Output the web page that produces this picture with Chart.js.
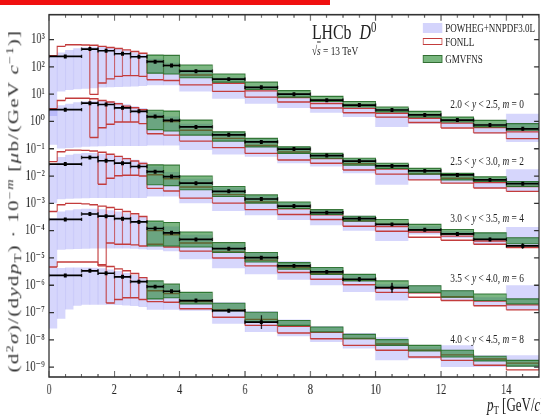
<!DOCTYPE html>
<html>
<head>
<meta charset="utf-8">
<script src="https://cdn.jsdelivr.net/npm/chart.js@4.4.1/dist/chart.umd.min.js"></script>
<style>
html, body { margin: 0; padding: 0; background: #fff; overflow: hidden; width: 541px; height: 415px; }
#wrap { position: absolute; left: 0; top: 0; width: 751px; height: 415px; transform: scaleX(0.72037); transform-origin: 0 0;
        font-family: "Liberation Serif", "DejaVu Serif", serif; color: #222; }
#chart { position: absolute; left: 0; top: 0; }
.lbl { position: absolute; white-space: nowrap; transform: translateY(-50%); line-height: 1; }
sup { font-size: 0.68em; vertical-align: 0.5em; line-height: 0; }
sub { font-size: 0.68em; vertical-align: -0.25em; line-height: 0; }
#redbar { position: absolute; left: 0; top: 0; width: 458px; height: 4.5px; background: #f01010; }
#ytitle { position: absolute; left: 19px; top: 201px; transform: translate(-50%, -50%) rotate(-90deg); white-space: nowrap;
          font-size: 21px; letter-spacing: 1.3px; line-height: 1; color: #333; }
.key { position: absolute; left: 587px; width: 27px; box-sizing: border-box; }
</style>
</head>
<body>
<div id="wrap">
  <canvas id="chart" width="751" height="415"></canvas>
  <div id="redbar"></div>
  <div id="ytitle">(d<sup>2</sup><i>σ</i>)/(d<i>y</i>d<i>p</i><sub>T</sub>) · 10<sup>−<i>m</i></sup> [<i>μ</i>b/(GeV <i>c</i><sup>−1</sup>)]</div>
  <div class="lbl" style="left:676px; top:405px; font-size:18px;"><i>p</i><sub>T</sub> [GeV/<i>c</i>]</div>
  <div class="lbl" style="left:433px; top:32px; font-size:22px;">LHCb&nbsp;&nbsp;<i>D</i><sup>0</sup></div>
  <div class="lbl" style="left:433px; top:50px; font-size:13px;">√<span style="text-decoration:overline"><i>s</i></span> = 13 TeV</div>
  <div class="key" style="top:23px; height:10px; background:rgb(212,212,252);"></div>
  <div class="key" style="top:38px; height:7px; border:1.3px solid rgb(195,60,60); background:#fff;"></div>
  <div class="key" style="top:55px; height:8px; background:rgb(120,182,126); border:1px solid rgb(50,110,50);"></div>
  <div class="lbl" style="left:618px; top:28px; font-size:12.5px;">POWHEG+NNPDF3.0L</div>
  <div class="lbl" style="left:618px; top:42px; font-size:12.5px;">FONLL</div>
  <div class="lbl" style="left:618px; top:59px; font-size:12.5px;">GMVFNS</div>
  <div id="rapidity"></div>
</div>
<script>
// bin edges in pT [GeV/c]
const dataEdges = [0, 1, 1.5, 2, 2.5, 3, 3.5, 4, 5, 6, 7, 8, 9, 10, 11, 12, 13, 14, 15];
const theoryEdges = [0, 0.25, 0.5, 0.75, 1, 1.25, 1.5, 1.75, 2, 2.25, 2.5, 2.75, 3, 3.5, 4, 5, 6, 7, 8, 9, 10, 11, 12, 13, 14, 15];
const gmvfnsEdges = [3, 3.5, 4, 5, 6, 7, 8, 9, 10, 11, 12, 13, 14, 15];

const mValues = [0, 2, 4, 6, 8];
const yLow = ['2.0', '2.5', '3.0', '3.5', '4.0'];
const yHigh = ['2.5', '3.0', '3.5', '4.0', '4.5'];
const xTickValues = [0, 2, 4, 6, 8, 10, 12, 14];
const yTickExponents = [-9, -8, -7, -6, -5, -4, -3, -2, -1, 0, 1, 2, 3];

// all values below are log10 of the plotted cross-section (already times 10^-m)
// 2.0 < y < 2.5, m = 0
const data_m0 = [2.38, 2.65, 2.59, 2.48, 2.37, 2.19, 2.05, 1.84, 1.55, 1.25, 1.00, 0.78, 0.60, 0.42, 0.24, 0.05, -0.13, -0.27];
const err_m0 = [0.03, 0.03, 0.03, 0.03, 0.03, 0.03, 0.03, 0.03, 0.03, 0.03, 0.03, 0.03, 0.03, 0.03, 0.03, 0.04, 0.04, 0.05];
const powhegHi_m0 = [2.41, 2.53, 2.62, 2.68, 2.72, 2.74, 2.73, 2.70, 2.65, 2.60, 2.53, 2.46, 2.30, 2.15, 1.90, 1.60, 1.30, 1.03, 0.80, 0.62, 0.47, 0.23, 0.10, -0.08, 0.28];
const powhegLo_m0 = [0.20, 1.10, 1.15, 1.18, 1.20, 1.22, 1.24, 1.25, 1.26, 1.27, 1.28, 1.30, 1.33, 1.33, 1.10, 0.83, 0.65, 0.49, 0.32, 0.16, -0.20, -0.08, -0.20, -0.44, -0.75];
const fonllHi_m0 = [2.41, 2.75, 2.81, 2.81, 2.80, 2.79, 2.75, 2.71, 2.67, 2.62, 2.56, 2.50, 2.20, 2.05, 1.70, 1.40, 1.12, 0.88, 0.66, 0.48, 0.30, 0.12, -0.06, -0.22, -0.38];
const fonllLo_m0 = [null, null, null, null, null, 0.99, 1.41, 1.56, 1.65, 1.68, 1.68, 1.65, 1.53, 1.50, 1.34, 1.10, 0.89, 0.71, 0.49, 0.32, 0.16, -0.04, -0.24, -0.42, -0.63];
const gmvfnsHi_m0 = [2.43, 2.42, 2.07, 1.74, 1.44, 1.13, 0.92, 0.73, 0.53, 0.37, 0.16, 0.04, -0.08];
const gmvfnsLo_m0 = [1.77, 1.74, 1.60, 1.44, 1.17, 0.89, 0.73, 0.53, 0.35, 0.16, -0.02, -0.20, -0.32];

// 2.5 < y < 3.0, m = 2
const data_m2 = [0.43, 0.67, 0.62, 0.50, 0.37, 0.18, 0.04, -0.20, -0.49, -0.75, -1.01, -1.25, -1.45, -1.63, -1.81, -1.96, -2.14, -2.28];
const err_m2 = [0.03, 0.03, 0.03, 0.03, 0.03, 0.03, 0.03, 0.03, 0.03, 0.03, 0.03, 0.03, 0.03, 0.03, 0.03, 0.04, 0.04, 0.05];
const powhegHi_m2 = [0.45, 0.59, 0.65, 0.70, 0.74, 0.76, 0.76, 0.74, 0.69, 0.63, 0.56, 0.49, 0.33, 0.18, -0.08, -0.38, -0.65, -0.93, -1.17, -1.38, -1.59, -1.77, -1.90, -2.08, -1.75];
const powhegLo_m2 = [-0.85, -0.99, -0.97, -0.95, -0.93, -0.92, -0.91, -0.90, -0.90, -0.90, -0.90, -0.90, -0.88, -0.88, -1.05, -1.21, -1.29, -1.53, -1.65, -1.90, -2.32, -2.14, -2.26, -2.44, -2.56];
const fonllHi_m2 = [0.47, 0.77, 0.85, 0.85, 0.85, 0.83, 0.77, 0.71, 0.65, 0.56, 0.50, 0.43, 0.15, 0.00, -0.32, -0.62, -0.88, -1.12, -1.36, -1.55, -1.74, -1.92, -2.08, -2.24, -2.38];
const fonllLo_m2 = [null, null, null, null, null, -0.59, -0.23, -0.10, -0.02, -0.02, -0.02, -0.08, -0.45, -0.50, -0.72, -0.96, -1.17, -1.41, -1.53, -1.78, -1.93, -2.14, -2.26, -2.44, -2.56];
const gmvfnsHi_m2 = [0.41, 0.38, 0.05, -0.38, -0.62, -0.93, -1.17, -1.35, -1.53, -1.72, -1.90, -2.03, -2.20];
const gmvfnsLo_m2 = [-0.30, -0.35, -0.50, -0.72, -0.93, -1.17, -1.35, -1.60, -1.72, -1.93, -2.14, -2.20, -2.38];

// 3.0 < y < 3.5, m = 4
const data_m4 = [-1.56, -1.32, -1.44, -1.53, -1.65, -1.84, -2.02, -2.26, -2.56, -2.84, -3.10, -3.34, -3.56, -3.77, -3.97, -4.12, -4.32, -4.56];
const err_m4 = [0.03, 0.03, 0.03, 0.03, 0.03, 0.03, 0.03, 0.03, 0.03, 0.03, 0.03, 0.03, 0.03, 0.04, 0.04, 0.05, 0.06, 0.10];
const powhegHi_m4 = [-1.60, -1.30, -1.22, -1.18, -1.16, -1.16, -1.18, -1.22, -1.27, -1.33, -1.40, -1.48, -1.65, -1.85, -2.10, -2.42, -2.72, -2.98, -3.24, -3.45, -3.77, -3.84, -4.02, -4.08, -3.87];
const powhegLo_m4 = [-3.00, -2.85, -2.83, -2.82, -2.81, -2.80, -2.80, -2.80, -2.80, -2.80, -2.80, -2.80, -2.75, -2.75, -3.00, -3.28, -3.44, -3.61, -3.80, -4.00, -4.38, -4.14, -4.28, -4.50, -4.56];
const fonllHi_m4 = [-1.47, -1.11, -1.05, -1.05, -1.06, -1.08, -1.13, -1.20, -1.28, -1.36, -1.45, -1.54, -1.95, -2.10, -2.40, -2.68, -2.95, -3.20, -3.42, -3.64, -3.85, -4.05, -4.20, -4.38, -4.55];
const fonllLo_m4 = [null, null, null, null, null, null, -2.30, -2.08, -1.99, -1.97, -1.97, -2.00, -2.45, -2.55, -2.81, -2.99, -3.23, -3.41, -3.59, -3.84, -4.02, -4.24, -4.35, -4.50, -4.62];
const gmvfnsHi_m4 = [-1.59, -1.60, -2.00, -2.38, -2.69, -2.95, -3.23, -3.47, -3.59, -3.77, -3.96, -4.08, -4.26];
const gmvfnsLo_m4 = [-2.32, -2.35, -2.50, -2.75, -2.99, -3.19, -3.41, -3.65, -3.77, -3.99, -4.14, -4.32, -4.48];

// 3.5 < y < 4.0, m = 6
const data_m6 = [-3.59, -3.39, -3.47, -3.56, -3.68, -3.92, -4.08, -4.32, -4.66, -4.99, -5.29, -5.51, -5.78, -6.09, null, null, null, null];
const err_m6 = [0.03, 0.03, 0.03, 0.03, 0.03, 0.03, 0.03, 0.03, 0.04, 0.04, 0.05, 0.05, 0.08, 0.18, null, null, null, null];
const powhegHi_m6 = [-3.55, -3.30, -3.25, -3.22, -3.20, -3.20, -3.22, -3.25, -3.30, -3.36, -3.42, -3.50, -3.70, -3.85, -4.15, -4.50, -4.82, -5.12, -5.35, -5.60, -5.96, -6.00, -6.17, -6.44, -6.00];
const powhegLo_m6 = [-5.30, -4.70, -4.68, -4.67, -4.66, -4.65, -4.65, -4.65, -4.65, -4.65, -4.66, -4.68, -4.70, -4.75, -5.05, -5.38, -5.60, -5.80, -6.00, -6.25, -6.56, -6.30, -6.54, -6.75, -6.90];
const fonllHi_m6 = [-3.30, -3.05, -3.00, -3.00, -3.02, -3.05, -3.10, -3.15, -3.22, -3.30, -3.38, -3.48, -4.00, -4.15, -4.45, -4.78, -5.08, -5.35, -5.58, -5.82, -6.10, -6.28, -6.42, -6.58, -6.72];
const fonllLo_m6 = [null, null, null, null, null, null, -5.29, -4.45, -4.50, -4.50, -4.52, -4.56, -4.50, -4.60, -4.75, -5.00, -5.29, -5.53, -5.78, -5.98, -6.26, -6.44, -6.56, -6.75, -6.90];
const gmvfnsHi_m6 = [-3.65, -3.70, -4.05, -4.44, -4.80, -5.17, -5.35, -5.60, -5.84, -6.02, -6.20, -6.32, -6.50];
const gmvfnsLo_m6 = [-4.56, -4.56, -4.60, -4.80, -5.15, -5.41, -5.60, -5.84, -6.08, -6.26, -6.44, -6.56, -6.68];

// 4.0 < y < 4.5, m = 8
const data_m8 = [-5.64, -5.47, -5.56, -5.69, -5.87, -6.05, -6.22, -6.56, -6.93, -7.35, null, null, null, null, null, null, null, null];
const err_m8 = [0.03, 0.03, 0.03, 0.03, 0.03, 0.03, 0.03, 0.03, 0.06, 0.25, null, null, null, null, null, null, null, null];
const powhegHi_m8 = [-5.30, -5.37, -5.35, -5.35, -5.35, -5.36, -5.38, -5.42, -5.48, -5.55, -5.62, -5.70, -5.85, -6.00, -6.30, -6.62, -6.95, -7.25, -7.50, -7.75, -7.90, -8.24, -8.20, -8.56, -8.56];
const powhegLo_m8 = [-7.58, -7.23, -6.89, -6.75, -6.71, -6.71, -6.71, -6.71, -6.72, -6.74, -6.76, -6.80, -6.90, -6.90, -6.93, -7.41, -7.71, -7.87, -8.08, -8.32, -8.75, -8.69, -8.99, -8.99, -8.99];
const fonllHi_m8 = [-5.33, -5.15, -5.15, -5.15, -5.15, -5.15, -5.25, -5.31, -5.40, -5.47, -5.57, -5.72, -6.20, -6.30, -6.60, -6.90, -7.25, -7.50, -7.72, -7.95, -8.15, -8.38, -8.55, -8.70, -8.85];
const fonllLo_m8 = [null, null, null, null, null, null, null, -6.65, -6.52, -6.46, -6.46, -6.52, -6.60, -6.62, -6.86, -7.17, -7.47, -7.75, -7.96, -8.20, -8.38, -8.63, -8.75, -8.93, -9.10];
const gmvfnsHi_m8 = [-5.84, -5.96, -6.26, -6.66, -6.99, -7.29, -7.53, -7.80, -7.99, -8.20, -8.38, -8.60, -8.75];
const gmvfnsLo_m8 = [-6.50, -6.46, -6.68, -6.93, -7.35, -7.47, -7.71, -7.96, -8.20, -8.41, -8.63, -8.77, -8.96];

const curves = [
  { data: data_m0, err: err_m0, pwHi: powhegHi_m0, pwLo: powhegLo_m0, foHi: fonllHi_m0, foLo: fonllLo_m0, gmHi: gmvfnsHi_m0, gmLo: gmvfnsLo_m0 },
  { data: data_m2, err: err_m2, pwHi: powhegHi_m2, pwLo: powhegLo_m2, foHi: fonllHi_m2, foLo: fonllLo_m2, gmHi: gmvfnsHi_m2, gmLo: gmvfnsLo_m2 },
  { data: data_m4, err: err_m4, pwHi: powhegHi_m4, pwLo: powhegLo_m4, foHi: fonllHi_m4, foLo: fonllLo_m4, gmHi: gmvfnsHi_m4, gmLo: gmvfnsLo_m4 },
  { data: data_m6, err: err_m6, pwHi: powhegHi_m6, pwLo: powhegLo_m6, foHi: fonllHi_m6, foLo: fonllLo_m6, gmHi: gmvfnsHi_m6, gmLo: gmvfnsLo_m6 },
  { data: data_m8, err: err_m8, pwHi: powhegHi_m8, pwLo: powhegLo_m8, foHi: fonllHi_m8, foLo: fonllLo_m8, gmHi: gmvfnsHi_m8, gmLo: gmvfnsLo_m8 }
];

const P = v => Math.pow(10, v);
const capSize = 0.06;

// rapidity labels
const labelTops = [103, 160, 217, 277, 338];
const rap = document.getElementById('rapidity');
mValues.forEach((m, i) => {
  const d = document.createElement('div');
  d.className = 'lbl';
  d.style.left = '625px';
  d.style.top = labelTops[i] + 'px';
  d.style.fontSize = '13px';
  d.innerHTML = yLow[i] + ' &lt; <i>y</i> &lt; ' + yHigh[i] + ', <i>m</i> = ' + m;
  rap.appendChild(d);
});

function steps(edges, vals) {
  const pts = [];
  vals.forEach((v, i) => {
    pts.push({ x: edges[i], y: P(v) }, { x: edges[i + 1], y: P(v) });
  });
  return pts;
}

function boxPath(edges, lo, hi) {
  const pts = [];
  hi.forEach((h, i) => {
    const x0 = edges[i], x1 = edges[i + 1], l = lo[i];
    if (l === null) {
      const prev = i > 0 ? hi[i - 1] : h;
      pts.push({ x: x0, y: P(prev) }, { x: x0, y: P(h) }, { x: x1, y: P(h) });
    } else {
      pts.push({ x: x0, y: P(l) }, { x: x0, y: P(h) }, { x: x1, y: P(h) }, { x: x1, y: P(l) }, { x: x0, y: P(l) });
    }
    pts.push({ x: x1, y: null });
  });
  return pts;
}

function edgeLines(edges, lo, hi) {
  const pts = [];
  hi.forEach((h, i) => {
    pts.push({ x: edges[i], y: P(lo[i]) }, { x: edges[i], y: P(h) }, { x: edges[i], y: null });
  });
  return pts;
}

function dataPath(vals, errs) {
  const pts = [];
  vals.forEach((v, i) => {
    if (v === null) return;
    const x0 = dataEdges[i], x1 = dataEdges[i + 1], xc = (x0 + x1) / 2, e = errs[i];
    pts.push({ x: x0, y: P(v) }, { x: x1, y: P(v) }, { x: x1, y: null });
    pts.push({ x: xc, y: P(v - e) }, { x: xc, y: P(v + e) }, { x: xc, y: null });
    pts.push({ x: x0, y: P(v - capSize) }, { x: x0, y: P(v + capSize) }, { x: x0, y: null });
    pts.push({ x: x1, y: P(v - capSize) }, { x: x1, y: P(v + capSize) }, { x: x1, y: null });
  });
  return pts;
}

function markers(vals) {
  const pts = [];
  vals.forEach((v, i) => {
    if (v === null) return;
    pts.push({ x: (dataEdges[i] + dataEdges[i + 1]) / 2, y: P(v) });
  });
  return pts;
}

const blueFill = 'rgba(120,120,245,0.30)';
const redLine = 'rgb(195,60,60)';
const greenFill = 'rgba(30,130,40,0.58)';
const greenLine = 'rgba(40,100,40,0.9)';

const datasets = [];
curves.forEach(c => {
  datasets.push(
    { data: steps(theoryEdges, c.pwHi), borderWidth: 0, fill: false, order: 5 },
    { data: steps(theoryEdges, c.pwLo), borderWidth: 0, fill: '-1', backgroundColor: blueFill, order: 5 },
    { data: edgeLines(theoryEdges, c.pwLo, c.pwHi), borderColor: 'rgba(110,110,230,0.15)', borderWidth: 1.2, order: 4 },
    { data: boxPath(theoryEdges, c.foLo, c.foHi), borderColor: redLine, borderWidth: 1.4, order: 3 },
    { data: steps(gmvfnsEdges, c.gmHi), borderWidth: 0, fill: false, order: 2 },
    { data: steps(gmvfnsEdges, c.gmLo), borderWidth: 0, fill: '-1', backgroundColor: greenFill, order: 2 },
    { data: boxPath(gmvfnsEdges, c.gmLo, c.gmHi), borderColor: greenLine, borderWidth: 1.1, order: 2 },
    { data: dataPath(c.data, c.err), borderColor: '#000', borderWidth: 1.7, order: 1 },
    { data: markers(c.data), showLine: false, pointStyle: 'rect', pointRadius: 2.8, pointBackgroundColor: '#000', pointBorderWidth: 0, order: 0 }
  );
});

const sup = { '-': '⁻', '0': '⁰', '1': '¹', '2': '²', '3': '³', '4': '⁴', '5': '⁵', '6': '⁶', '7': '⁷', '8': '⁸', '9': '⁹' };

const frameTicks = {
  id: 'frameTicks',
  afterDatasetsDraw(chart) {
    const { ctx, chartArea: a } = chart;
    const xs = chart.scales.x, ys = chart.scales.y;
    ctx.save();
    ctx.strokeStyle = '#333';
    ctx.lineWidth = 1.6;
    ctx.strokeRect(a.left, a.top, a.right - a.left, a.bottom - a.top);
    ctx.lineWidth = 1.3;
    ctx.beginPath();
    for (let v = 0; v <= 15; v += 0.5) {
      const px = xs.getPixelForValue(v);
      const len = v % 2 === 0 ? 6 : 3;
      ctx.moveTo(px, a.bottom); ctx.lineTo(px, a.bottom - len);
      ctx.moveTo(px, a.top); ctx.lineTo(px, a.top + len);
    }
    yTickExponents.forEach(e => {
      const py = ys.getPixelForValue(P(e));
      ctx.moveTo(a.left, py); ctx.lineTo(a.left + 7, py);
      ctx.moveTo(a.right, py); ctx.lineTo(a.right - 7, py);
    });
    ctx.stroke();
    ctx.restore();
  }
};

Chart.defaults.font.family = "'Liberation Serif', 'DejaVu Serif', serif";
Chart.defaults.color = '#222';

new Chart(document.getElementById('chart').getContext('2d'), {
  type: 'line',
  data: { datasets: datasets },
  plugins: [frameTicks],
  options: {
    responsive: false,
    animation: false,
    devicePixelRatio: 1,
    events: [],
    layout: { padding: { top: 12, right: 0, bottom: 0, left: 0 } },
    elements: { point: { radius: 0, hoverRadius: 0 }, line: { tension: 0 } },
    plugins: { legend: { display: false }, tooltip: { enabled: false } },
    scales: {
      x: {
        type: 'linear', min: 0, max: 15,
        grid: { display: false, drawTicks: false },
        border: { display: false },
        afterBuildTicks: s => { s.ticks = xTickValues.map(v => ({ value: v })); },
        afterFit: s => { s.height = 38; },
        ticks: { padding: 4, autoSkip: false, maxRotation: 0, font: { size: 14.5 }, color: '#222' }
      },
      y: {
        type: 'logarithmic', min: P(-9.36), max: P(3.91),
        grid: { display: false, drawTicks: false },
        border: { display: false },
        afterBuildTicks: s => { s.ticks = yTickExponents.map(e => ({ value: P(e) })); },
        afterFit: s => { s.width = 68; },
        ticks: {
          padding: 6, autoSkip: false, font: { size: 14.5 }, color: '#222',
          callback: v => '10' + String(Math.round(Math.log10(v))).split('').map(ch => sup[ch]).join('')
        }
      }
    }
  }
});
</script>
</body>
</html>
